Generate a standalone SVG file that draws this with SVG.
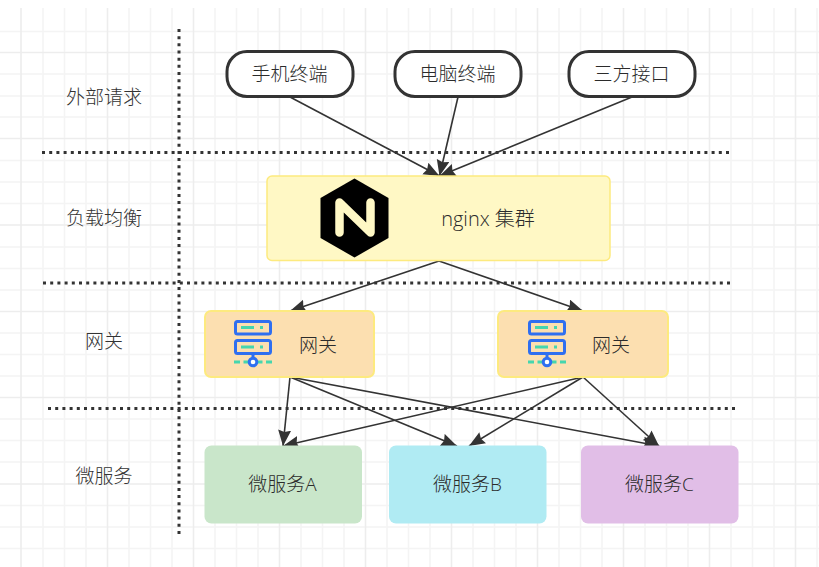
<svg xmlns="http://www.w3.org/2000/svg" width="819" height="567" viewBox="0 0 819 567">
<defs>
<style>
text{font-family:"Open Sans","Noto Sans CJK SC",sans-serif;font-size:19px;font-weight:300;fill:#2b2b2b;text-anchor:middle;dominant-baseline:central}
.lab{fill:#333}
.term{fill:#fff;stroke:#333;stroke-width:3}
.gw{fill:#fcdfb0;stroke:#fdea7f;stroke-width:2}
.sep{fill:none;stroke:#333;stroke-width:3;stroke-dasharray:3 4.200}
.sepv{fill:none;stroke:#333;stroke-width:3;stroke-dasharray:3 4.170}
.con{fill:none;stroke:#333;stroke-width:1.600;marker-end:url(#arr)}
.minor{stroke:#f4f4f4;stroke-width:1.600;fill:none}
.major{stroke:#ededed;stroke-width:1.600;fill:none}
</style>
<marker id="arr" markerUnits="userSpaceOnUse" markerWidth="18" markerHeight="14" refX="16" refY="6.500" orient="auto"><path d="M0 0L16 6.500L0 13L2 6.500Z" fill="#333"/></marker>
<g id="srv">
<rect x="1.500" y="1.500" width="35" height="12.500" rx="2" fill="none" stroke="#2f6ff0" stroke-width="3"/>
<rect x="1.500" y="20.500" width="35" height="13" rx="2" fill="none" stroke="#2f6ff0" stroke-width="3"/>
<path d="M7 7.500H20M26 7.500H29M7 27H20M26 27H29" stroke="#45d6ae" stroke-width="3" fill="none"/>
<path d="M19 34V38" stroke="#2f6ff0" stroke-width="3"/>
<path d="M0 42H6M9.500 42H14M24 42H28.500M32 42H38" stroke="#45d6ae" stroke-width="3" fill="none"/>
<circle cx="19" cy="42" r="3.800" fill="#fff" stroke="#2f6ff0" stroke-width="3"/>
</g>
</defs>
<rect width="819" height="567" fill="#fff"/>
<g id="grid">
<path class="minor" d="M0 31.500H819M0 74H819M0 96H819M0 117H819M0 160.500H819M0 182H819M0 203.500H819M0 247H819M0 268.500H819M0 290H819M0 333H819M0 354.500H819M0 376H819M0 419H819M0 440.500H819M0 462H819M0 505.500H819M0 527H819M0 548.500H819"/>
<path class="minor" d="M43 8V567M64.500 8V567M86 8V567M129 8V567M150.500 8V567M172 8V567M215 8V567M236.500 8V567M258 8V567M301 8V567M322.500 8V567M344 8V567M387 8V567M408.500 8V567M430 8V567M473 8V567M494.500 8V567M516 8V567M559 8V567M580.500 8V567M602 8V567M645 8V567M666.500 8V567M688 8V567M731 8V567M752.500 8V567M774 8V567M817 8V567"/>
<path class="major" d="M0 52.500H819M0 138.500H819M0 225H819M0 311.500H819M0 397.500H819M0 484H819M21 8V567M107.500 8V567M193.500 8V567M279.500 8V567M365.500 8V567M451.500 8V567M537.500 8V567M623.500 8V567M709.500 8V567M795.500 8V567"/>
</g>
<g id="separators">
<path class="sepv" d="M179 29V534"/>
<path class="sep" d="M42 152.500H730"/>
<path class="sep" d="M43 283H731"/>
<path class="sep" d="M48 408.500H735.500"/>
</g>
<g id="labels">
<text class="lab" x="104" y="97">外部请求</text>
<text class="lab" x="104" y="218">负载均衡</text>
<text class="lab" x="104" y="341">网关</text>
<text class="lab" x="104" y="476">微服务</text>
</g>
<g id="connectors">
<path class="con" d="M290 97L439.500 176"/>
<path class="con" d="M458 97L439.500 176"/>
<path class="con" d="M632 97L439.500 176"/>
<path class="con" d="M439 261L290 311"/>
<path class="con" d="M439 261L583 311"/>
<path class="con" d="M290 377L283 446"/>
<path class="con" d="M290 377L457 446"/>
<path class="con" d="M290 377L659 446"/>
<path class="con" d="M583 377L283 446"/>
<path class="con" d="M583 377L469 446"/>
<path class="con" d="M583 377L659 446"/>
</g>
<g id="n-phone"><rect class="term" x="227" y="51.500" width="126" height="45" rx="20"/><text x="289.500" y="74">手机终端</text></g>
<g id="n-pc"><rect class="term" x="395" y="51.500" width="126" height="45" rx="20"/><text x="457.500" y="74">电脑终端</text></g>
<g id="n-api"><rect class="term" x="569" y="51.500" width="126" height="45" rx="20"/><text x="631.500" y="74">三方接口</text></g>
<g id="n-nginx">
<rect x="267" y="176" width="343" height="84.500" rx="5" fill="#fff8c5" stroke="#fdea7f" stroke-width="1.500"/>
<path d="M354.500 178.500L388.500 198V238L354.500 257.500L320.500 238V198Z" fill="#000"/>
<path d="M339.500 232.500V202.500L370.500 232.500V202.500" fill="none" stroke="#fff8c5" stroke-width="8.500" stroke-linecap="round" stroke-linejoin="round"/>
<text x="488" y="218.500" style="font-size:20px">nginx 集群</text>
</g>
<g id="n-gw1"><rect class="gw" x="205" y="311" width="169" height="66" rx="6"/><use href="#srv" x="234" y="320"/><text x="318" y="345">网关</text></g>
<g id="n-gw2"><rect class="gw" x="498" y="311" width="170" height="66" rx="6"/><use href="#srv" x="528" y="320"/><text x="611" y="345">网关</text></g>
<g id="n-a"><rect x="204.500" y="445.500" width="157.500" height="78" rx="7" fill="#c9e6ca"/><text x="282.500" y="484">微服务A</text></g>
<g id="n-b"><rect x="389" y="445.500" width="157.500" height="78" rx="7" fill="#b0ebf3"/><text x="467.500" y="484">微服务B</text></g>
<g id="n-c"><rect x="581" y="445.500" width="157.500" height="78" rx="7" fill="#e1bee7"/><text x="659.500" y="484">微服务C</text></g>
</svg>
